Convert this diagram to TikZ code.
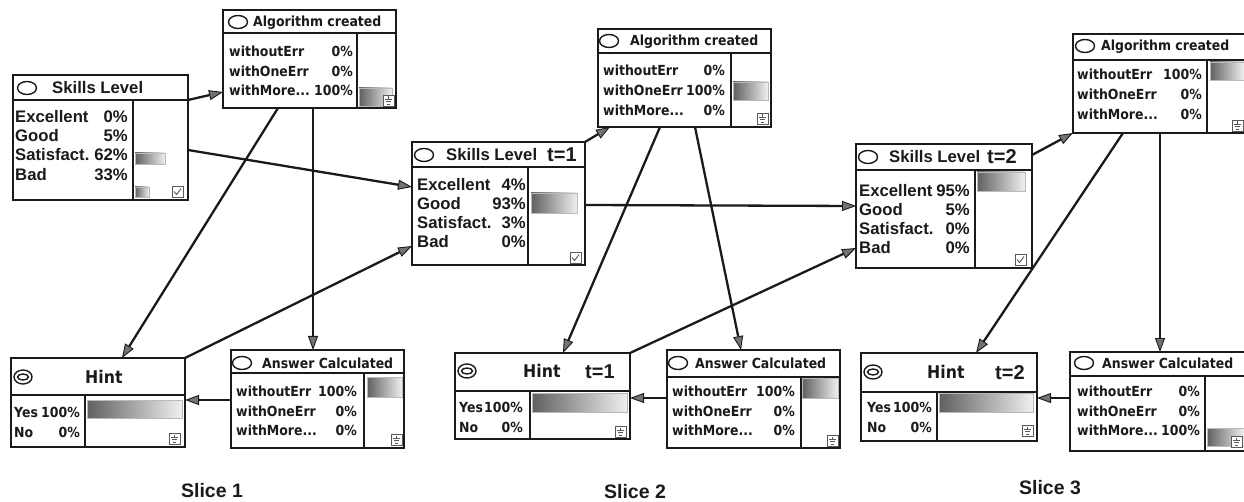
\documentclass[tikz,border=0pt]{standalone}
\usepackage{fontspec}
\setmainfont{Liberation Sans}
\newfontfamily\tah{DejaVu Sans}[FakeStretch=0.9]
\usetikzlibrary{arrows.meta,calc}
\definecolor{ink}{HTML}{1A1A1A}
\tikzset{
  bnframe/.style={draw=ink, line width=2.8pt, fill=white, inner sep=0pt, outer sep=0pt},
  sepline/.style={draw=ink, line width=2.3pt},
  splitline/.style={draw=ink, line width=1.6pt},
  icon/.style={draw=ink, line width=1.4pt},
  smallicon/.style={draw=gray!70!black, line width=0.7pt},
  ta/.style={font=\tah\bfseries\fontsize{13.9}{15}\selectfont, text=ink, inner sep=0pt, text height=10pt, text depth=0pt},
  tahint/.style={font=\tah\bfseries\fontsize{17.5}{19}\selectfont, text=ink, inner sep=0pt, text height=12.5pt, text depth=0pt},
  ar/.style={font=\bfseries\fontsize{16.7}{18}\selectfont, text=ink, inner sep=0pt, text height=11.8pt, text depth=0pt},
  tt/.style={font=\bfseries\fontsize{20}{22}\selectfont, text=ink, inner sep=0pt, text height=14pt, text depth=0pt},
  slice/.style={font=\bfseries\fontsize{19.5}{21}\selectfont, text=ink, inner sep=0pt},
  lab/.style={anchor=west},
  pct/.style={anchor=east},
  conn/.style={draw=ink, line width=2.3pt, -{Triangle[length=14pt, width=10pt, line width=0.9pt, fill=black!55]}}
}
\newcommand\bnnode[7]{%
  \node[bnframe, minimum width={(#4-#2)*1pt}, minimum height={(#5-#3)*1pt}] (#1) at ({(#2+#4)/2},{(#3+#5)/2}) {};
  \draw[sepline] ($(#1.north west)+(0,#6)$) -- ($(#1.north east)+(0,#6)$);
  \draw[splitline] ($(#1.north west)+(#7,#6)$) -- ($(#1.south west)+(#7,0)$);
}
\newcommand\bnbar[4]{%
  \shade[left color=gray!75!black, right color=gray!12] (#1,#2) rectangle (#3,#4);
  \draw[gray!55, line width=0.6pt] (#1,#2) rectangle (#3,#4);
}
\newcommand\gndicon[2]{%
  \draw[smallicon, fill=white] (#1,#2) rectangle ++(11,11);
  \draw[smallicon] (#1+5.5,#2+1.5) -- (#1+5.5,#2+4.5)
    (#1+2,#2+4.5) -- (#1+9,#2+4.5)
    (#1+3.2,#2+6.8) -- (#1+7.8,#2+6.8)
    (#1+4.4,#2+9) -- (#1+6.6,#2+9);
}
\newcommand\chkicon[2]{%
  \draw[smallicon, fill=white] (#1,#2) rectangle ++(11,11);
  \draw[smallicon, line width=0.9pt] (#1+2,#2+5.5) -- (#1+4.5,#2+8.5) -- (#1+9,#2+2.5);
}
\newcommand\ovicon[2]{\draw[icon] (#1,#2) ellipse [x radius=9.5, y radius=6.5];}
\newcommand\hinticon[2]{%
  \draw[icon] (#1,#2) ellipse [x radius=9, y radius=7];
  \draw[icon] (#1,#2) ellipse [x radius=5.5, y radius=3];
}
\begin{document}
\begin{tikzpicture}[x=1pt,y=-1pt]
\useasboundingbox (0,0) rectangle (1244,502);

% ---------------- Slice 1 ----------------
\bnnode{sla}{13}{75}{188}{200}{25}{120}
\ovicon{27}{88}
\node[ar,lab] (slat) at (52,88) {Skills Level};
\node[ar,lab] (sla1) at (15,117) {Excellent}; \node[ar,pct] (sla1p) at (128,117) {0\%};
\node[ar,lab] (sla2) at (15,136) {Good};      \node[ar,pct] (sla2p) at (128,136) {5\%};
\node[ar,lab] (sla3) at (15,155) {Satisfact.};\node[ar,pct] (sla3p) at (128,155) {62\%};
\node[ar,lab] (sla4) at (15,175) {Bad};       \node[ar,pct] (sla4p) at (128,175) {33\%};
\bnbar{135}{153}{165}{164}
\bnbar{135}{187}{149}{197}
\chkicon{172}{186}

\bnnode{ala}{223}{10}{396}{108}{23}{134}
\ovicon{238}{22}
\node[ta,lab] (alat) at (253,22) {Algorithm created};
\node[ta,lab] (ala1) at (229,52) {withoutErr};  \node[ta,pct] (ala1p) at (353,52) {0\%};
\node[ta,lab] (ala2) at (229,72) {withOneErr};  \node[ta,pct] (ala2p) at (353,72) {0\%};
\node[ta,lab] (ala3) at (229,91) {withMore...}; \node[ta,pct] (ala3p) at (353,91) {100\%};
\bnbar{359}{88}{392}{106}
\gndicon{383}{95}

\bnnode{hia}{11}{358}{185}{447}{37}{74}
\hinticon{23}{377}
\node[tahint,lab] (hiat) at (85,377) {Hint};
\node[ta,lab] (hia1) at (14,412) {Yes}; \node[ta,pct] (hia1p) at (80,412) {100\%};
\node[ta,lab] (hia2) at (14,432) {No};  \node[ta,pct] (hia2p) at (80,432) {0\%};
\bnbar{87}{400}{182}{418}
\gndicon{169}{433}

\bnnode{ana}{231}{350}{404}{448}{23}{133}
\ovicon{242}{363}
\node[ta,lab] (anat) at (262,363) {Answer Calculated};
\node[ta,lab] (ana1) at (236,391) {withoutErr};  \node[ta,pct] (ana1p) at (357,391) {100\%};
\node[ta,lab] (ana2) at (236,411) {withOneErr};  \node[ta,pct] (ana2p) at (357,411) {0\%};
\node[ta,lab] (ana3) at (236,430) {withMore...}; \node[ta,pct] (ana3p) at (357,430) {0\%};
\bnbar{367}{377}{402}{397}
\gndicon{391}{434}

% ---------------- Slice 2 ----------------
\bnnode{slb}{412}{142}{585}{265}{25}{116}
\ovicon{424}{155}
\node[ar,lab] (slbt) at (446,155) {Skills Level};
\node[tt,lab] (slbtt) at (547,155) {t=1};
\node[ar,lab] (slb1) at (417,185) {Excellent}; \node[ar,pct] (slb1p) at (526,185) {4\%};
\node[ar,lab] (slb2) at (417,204) {Good};      \node[ar,pct] (slb2p) at (526,204) {93\%};
\node[ar,lab] (slb3) at (417,223) {Satisfact.};\node[ar,pct] (slb3p) at (526,223) {3\%};
\node[ar,lab] (slb4) at (417,242) {Bad};       \node[ar,pct] (slb4p) at (526,242) {0\%};
\bnbar{531}{193}{577}{213}
\chkicon{570}{252}

\bnnode{alb}{598}{29}{771}{127}{24}{133}
\ovicon{609}{41}
\node[ta,lab] (albt) at (630,41) {Algorithm created};
\node[ta,lab] (alb1) at (603,71) {withoutErr};  \node[ta,pct] (alb1p) at (725,71) {0\%};
\node[ta,lab] (alb2) at (603,91) {withOneErr};  \node[ta,pct] (alb2p) at (725,91) {100\%};
\node[ta,lab] (alb3) at (603,111) {withMore...};\node[ta,pct] (alb3p) at (725,111) {0\%};
\bnbar{733}{82}{768}{100}
\gndicon{757}{113}

\bnnode{hib}{455}{353}{630}{439}{38}{75}
\hinticon{467}{371}
\node[tahint,lab] (hibt) at (523,371) {Hint};
\node[tt,lab] (hibtt) at (585,371) {t=1};
\node[ta,lab] (hib1) at (459,407) {Yes}; \node[ta,pct] (hib1p) at (523,407) {100\%};
\node[ta,lab] (hib2) at (459,427) {No};  \node[ta,pct] (hib2p) at (523,427) {0\%};
\bnbar{532}{393}{627}{412}
\gndicon{615}{426}

\bnnode{anb}{667}{350}{840}{448}{27}{134}
\ovicon{678}{363}
\node[ta,lab] (anbt) at (695,363) {Answer Calculated};
\node[ta,lab] (anb1) at (672,391) {withoutErr};  \node[ta,pct] (anb1p) at (795,391) {100\%};
\node[ta,lab] (anb2) at (672,411) {withOneErr};  \node[ta,pct] (anb2p) at (795,411) {0\%};
\node[ta,lab] (anb3) at (672,430) {withMore...}; \node[ta,pct] (anb3p) at (795,430) {0\%};
\bnbar{802}{378}{838}{398}
\gndicon{827}{435}

% ---------------- Slice 3 ----------------
\bnnode{slc}{856}{144}{1032}{268}{26}{119}
\ovicon{868}{157}
\node[ar,lab] (slct) at (889,157) {Skills Level};
\node[tt,lab] (slctt) at (987,157) {t=2};
\node[ar,lab] (slc1) at (859,191) {Excellent}; \node[ar,pct] (slc1p) at (970,191) {95\%};
\node[ar,lab] (slc2) at (859,210) {Good};      \node[ar,pct] (slc2p) at (970,210) {5\%};
\node[ar,lab] (slc3) at (859,229) {Satisfact.};\node[ar,pct] (slc3p) at (970,229) {0\%};
\node[ar,lab] (slc4) at (859,248) {Bad};       \node[ar,pct] (slc4p) at (970,248) {0\%};
\bnbar{977}{172}{1025}{191}
\chkicon{1015}{254}

\bnnode{alc}{1073}{34}{1248}{133}{26}{134}
\ovicon{1085}{46}
\node[ta,lab] (alct) at (1101,46) {Algorithm created};
\node[ta,lab] (alc1) at (1077,75) {withoutErr};  \node[ta,pct] (alc1p) at (1202,75) {100\%};
\node[ta,lab] (alc2) at (1077,95) {withOneErr};  \node[ta,pct] (alc2p) at (1202,95) {0\%};
\node[ta,lab] (alc3) at (1077,115) {withMore...};\node[ta,pct] (alc3p) at (1202,115) {0\%};
\bnbar{1210}{62}{1244}{80}
\gndicon{1232}{120}

\bnnode{hic}{861}{353}{1037}{441}{39}{76}
\hinticon{873}{372}
\node[tahint,lab] (hict) at (927,372) {Hint};
\node[tt,lab] (hictt) at (995,372) {t=2};
\node[ta,lab] (hic1) at (867,407) {Yes}; \node[ta,pct] (hic1p) at (932,407) {100\%};
\node[ta,lab] (hic2) at (867,427) {No};  \node[ta,pct] (hic2p) at (932,427) {0\%};
\bnbar{939}{393}{1033}{412}
\gndicon{1022}{425}

\bnnode{anc}{1070}{352}{1248}{451}{24}{135}
\ovicon{1084}{363}
\node[ta,lab] (anct) at (1102,363) {Answer Calculated};
\node[ta,lab] (anc1) at (1077,391) {withoutErr};  \node[ta,pct] (anc1p) at (1200,391) {0\%};
\node[ta,lab] (anc2) at (1077,411) {withOneErr};  \node[ta,pct] (anc2p) at (1200,411) {0\%};
\node[ta,lab] (anc3) at (1077,430) {withMore...}; \node[ta,pct] (anc3p) at (1200,430) {100\%};
\bnbar{1207}{428}{1244}{446}
\gndicon{1231}{436}

% ---------------- connectors ----------------
\draw[conn] ($(sla.north east)+(0,25)$) -- ($(ala.north west)+(0,82)$);
\draw[conn] ($(sla.north east)+(0,75)$) -- ($(slb.north west)+(0,45)$);
\draw[conn] ($(ala.south west)+(55,0)$) -- ($(hia.north west)+(111,0)$);
\draw[conn] ($(ala.south west)+(90,0)$) -- ($(ana.north west)+(82,0)$);
\draw[conn] ($(ana.north west)+(0,50)$) -- ($(hia.north east)+(0,42)$);
\draw[conn] (hia.north east) -- ($(slb.north west)+(0,104)$);

\draw[conn] (slb.north east) -- ($(alb.south west)+(12,0)$);
\draw[conn] ($(slb.north east)+(0,63)$) -- ($(slc.north west)+(0,62)$);
\draw[conn] ($(alb.south west)+(62,0)$) -- ($(hib.north west)+(108,0)$);
\draw[conn] ($(alb.south west)+(97,0)$) -- ($(anb.north west)+(74,0)$);
\draw[conn] ($(anb.north west)+(0,48)$) -- ($(hib.north east)+(0,45)$);
\draw[conn] (hib.north east) -- ($(slc.north west)+(0,104)$);

\draw[conn] ($(slc.north east)+(0,11)$) -- (alc.south west);
\draw[conn] ($(alc.south west)+(50,0)$) -- ($(hic.north west)+(115,0)$);
\draw[conn] ($(alc.south west)+(87,0)$) -- ($(anc.north west)+(90,0)$);
\draw[conn] ($(anc.north west)+(0,46)$) -- ($(hic.north east)+(0,45)$);

% ---------------- slice labels ----------------
\node[slice] (s1) at (212,491) {Slice 1};
\node[slice] (s2) at (635,492) {Slice 2};
\node[slice] (s3) at (1050,488) {Slice 3};
\end{tikzpicture}
\end{document}
